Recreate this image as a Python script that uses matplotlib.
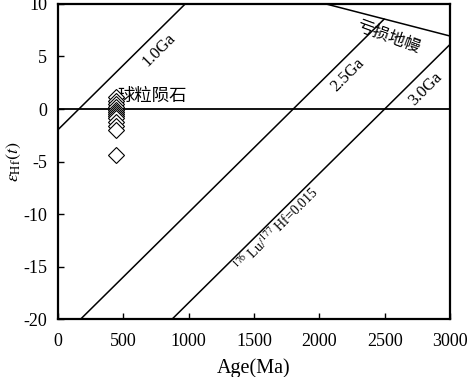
import numpy as np
import matplotlib.pyplot as plt

plt.rcParams['font.family'] = ['Liberation Serif', 'Noto Sans CJK SC']
plt.rcParams['mathtext.fontset'] = 'stix'
plt.rcParams['axes.unicode_minus'] = False

# данные: возраст циркона (Ma) и eHf(t)
age = [440, 440, 440, 440, 440, 440, 440, 440, 440, 440, 440, 440, 440]
ehf = [1.1, 0.8, 0.5, 0.2, -0.1, -0.3, -0.5, -0.7, -0.9, -1.2, -1.6, -2.0, -4.4]

# линии эволюции коры (176Lu/177Hf=0.015): возраст пересечения с eHf=0
crust_t0 = [160, 1800, 2500]
crust_slope = 0.0123
crust_names = ['1.0Ga', '2.5Ga', '3.0Ga']
crust_label_t = [770, 2220, 2810]

# деплетированная мантия
dm_t = [0, 3000]
dm_e = [16.6, 6.95]

fig = plt.figure(figsize=(4.74, 3.77), dpi=100)
ax = fig.add_axes([0.1224, 0.1538, 0.827, 0.8356])

tt = np.linspace(0, 3000, 601)
dm = np.interp(tt, dm_t, dm_e)
ax.plot(dm_t, dm_e, color='black', lw=1.1)
for t0, name, lt in zip(crust_t0, crust_names, crust_label_t):
    e = crust_slope * (tt - t0)
    m = e <= dm + 1e-9
    ax.plot(tt[m], e[m], color='black', lw=1.1)
    le = crust_slope * (lt - t0) - 1.9
    ax.text(lt, le, name, rotation=45, rotation_mode='anchor',
            ha='center', va='center', fontsize=12)

ax.axhline(0, color='black', lw=1.3)
ax.plot(age, ehf, linestyle='none', marker='D', ms=8, mfc='white',
        mec='black', mew=0.8, zorder=5)

ax.text(1675, -11.4, r'$^{176}$ Lu/$^{177}$ Hf=0.015', rotation=45,
        rotation_mode='anchor', ha='center', va='center', fontsize=10)
ax.text(2525, 6.85, '亏损地幔', rotation=-20, rotation_mode='anchor',
        ha='center', va='center', fontsize=12)
ax.text(720, 1.15, '球粒陨石', ha='center', va='center', fontsize=12.5,
        zorder=4)

ax.set_xlim(0, 3000)
ax.set_ylim(-20, 10)
ax.set_xticks(np.arange(0, 3001, 500))
ax.set_yticks(np.arange(-20, 11, 5))
ax.tick_params(direction='in', length=4, width=1, labelsize=13)
ax.tick_params(axis='x', pad=10)
ax.tick_params(axis='y', pad=8)
for s in ax.spines.values():
    s.set_linewidth(1.6)

ax.set_xlabel('Age(Ma)', fontsize=14.5, labelpad=6)
ax.set_ylabel(r'$\varepsilon_{\mathrm{Hf}}(t)$', fontsize=13)
ax.yaxis.set_label_coords(-0.09, 0.5)

fig.savefig('out.png', dpi=100)
